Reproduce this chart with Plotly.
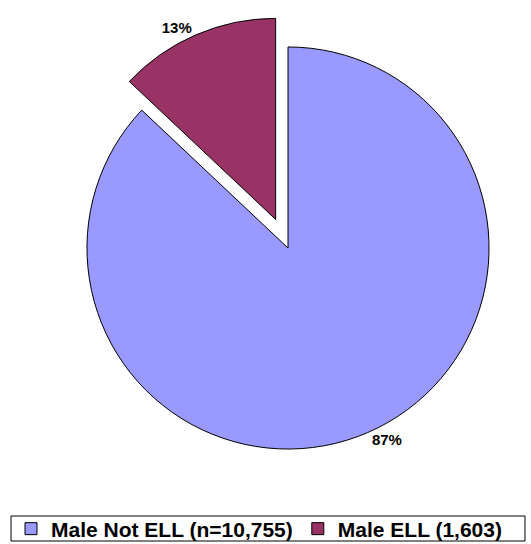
import plotly.graph_objects as go

# Male students by English Language Learner status
labels = ["Male Not ELL (n=10,755)", "Male ELL (1,603)"]
counts = [10755, 1603]
colors = ["#9999FF", "#993366"]
pulls = [0, 0.155]

W, H = 531, 544

fig = go.Figure(
    go.Pie(
        labels=labels,
        values=counts,
        sort=False,
        direction="clockwise",
        rotation=0,
        pull=pulls,
        marker=dict(colors=colors, line=dict(color="#000000", width=1)),
        texttemplate="%{percent:.0%}",
        textposition="outside",
        textfont=dict(family="Liberation Sans, Arial, sans-serif", size=15, color="#000000", weight="bold"),
        domain=dict(x=[55.8 / W, 520.2 / W], y=[1 - 480.2 / H, 1 - 15.8 / H]),
        hoverinfo="label+percent",
    )
)

# frame around the legend row
fig.add_shape(
    type="rect",
    xref="paper", yref="paper",
    x0=11 / W, x1=525 / W,
    y0=1 - 541 / H, y1=1 - 516 / H,
    line=dict(color="#000000", width=1),
    fillcolor="rgba(0,0,0,0)",
    layer="below",
)

fig.update_layout(
    width=W,
    height=H,
    margin=dict(l=0, r=0, t=0, b=0, autoexpand=False),
    paper_bgcolor="#FFFFFF",
    plot_bgcolor="#FFFFFF",
    showlegend=True,
    legend=dict(
        orientation="h",
        xref="container",
        yref="container",
        x=11 / W,
        xanchor="left",
        y=1 - 508.5 / H,
        yanchor="top",
        bgcolor="rgba(0,0,0,0)",
        borderwidth=0,
        font=dict(family="Liberation Sans, Arial, sans-serif", size=21, color="#000000", weight="bold"),
        itemclick=False,
    ),
)

fig.write_html("out.html")
